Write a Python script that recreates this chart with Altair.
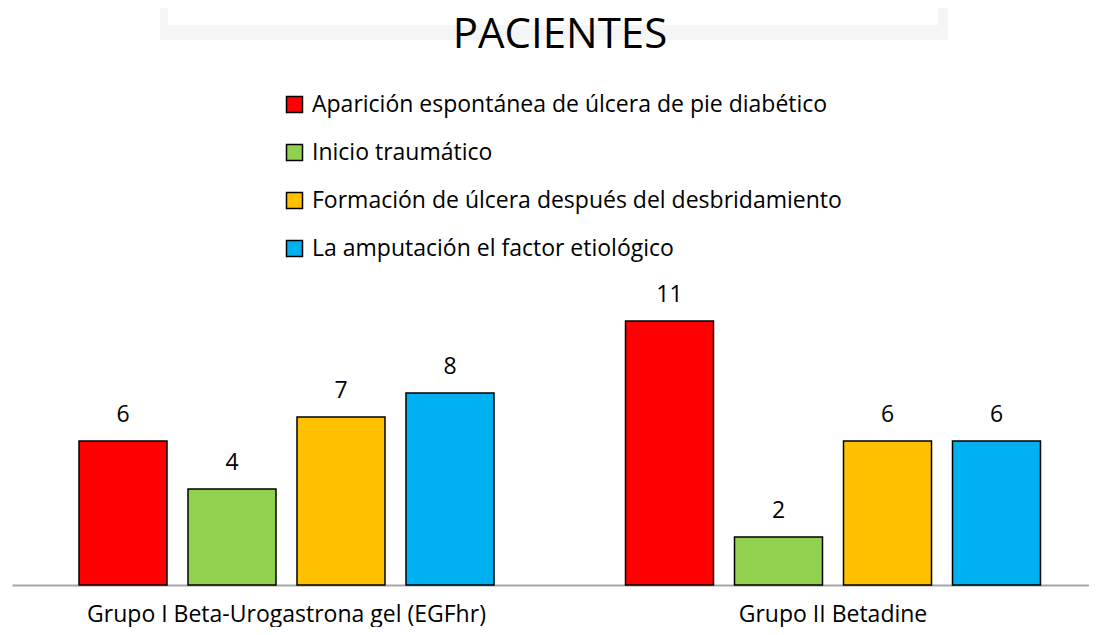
import altair as alt
import pandas as pd

groups = ["Grupo I Beta-Urogastrona gel (EGFhr)", "Grupo II Betadine"]
categories = [
    "Aparición espontánea de úlcera de pie diabético",
    "Inicio traumático",
    "Formación de úlcera después del desbridamiento",
    "La amputación el factor etiológico",
]
values_g1 = [6, 4, 7, 8]
values_g2 = [11, 2, 6, 6]
colors = ["#FF0000", "#92D050", "#FFC000", "#00B0F0"]
title_text = ["PACIENTES"]

rows = []
for g, vals in zip(groups, [values_g1, values_g2]):
    for c, v in zip(categories, vals):
        rows.append({"grupo": g, "causa": c, "valor": v})
df = pd.DataFrame(rows)

FONT = "Open Sans"
FS = 23

x = alt.X(
    "grupo:N",
    sort=groups,
    scale=alt.Scale(paddingInner=0.08, paddingOuter=0.02536, align=0.8337),
    axis=alt.Axis(
        title=None, labelAngle=0, ticks=False, grid=False,
        domainColor="#A6A6A6", domainWidth=2,
        labelFontSize=FS, labelFont=FONT, labelColor="black",
        labelPadding=18, labelLimit=0,
    ),
)
xoff = alt.XOffset(
    "causa:N", sort=categories,
    scale=alt.Scale(paddingInner=0.1927, paddingOuter=0.4027),
)
y = alt.Y("valor:Q", scale=alt.Scale(domain=[0, 12.708], nice=False, zero=True), axis=None)

color = alt.Color(
    "causa:N",
    sort=categories,
    scale=alt.Scale(domain=categories, range=colors),
    legend=alt.Legend(
        title=None, orient="none", legendX=271, legendY=-187,
        direction="vertical", symbolType="square", symbolSize=256,
        symbolStrokeColor="black", symbolStrokeWidth=1.5, symbolOpacity=1,
        labelFontSize=FS, labelFont=FONT, labelColor="black",
        rowPadding=24, labelOffset=6, labelLimit=0, padding=0,
    ),
)

base = alt.Chart(df)
bars = base.mark_bar(stroke="black", strokeWidth=1.5, opacity=1).encode(
    x=x, xOffset=xoff, y=y, color=color
)
labels = base.mark_text(
    dy=-19, baseline="alphabetic", fontSize=FS, font=FONT, color="black"
).encode(x=x, xOffset=xoff, y=y, text="valor:Q")

deco_df = pd.DataFrame({"d": [1]})
shadow = alt.Chart(deco_df).mark_rect(color="#F5F5F5").encode(
    x=alt.value(148), x2=alt.value(936), y=alt.value(-272), y2=alt.value(-240)
)
cover = alt.Chart(deco_df).mark_rect(color="#FFFFFF").encode(
    x=alt.value(156), x2=alt.value(926), y=alt.value(-272), y2=alt.value(-255)
)

title = alt.Chart(pd.DataFrame({"t": title_text})).mark_text(
    fontSize=42, font=FONT, color="black", baseline="middle", align="center"
).encode(text="t:N", x=alt.value(548), y=alt.value(-245))

chart = alt.layer(shadow, cover, bars, labels, title).properties(
    width=1077,
    height=305,
    padding={"left": 4, "top": 272, "right": 0, "bottom": 42},
    autosize=alt.AutoSizeParams(type="none"),
    background="white",
).configure_view(stroke=None)

chart.save("out.html", embed_options={"renderer": "svg", "actions": False})
